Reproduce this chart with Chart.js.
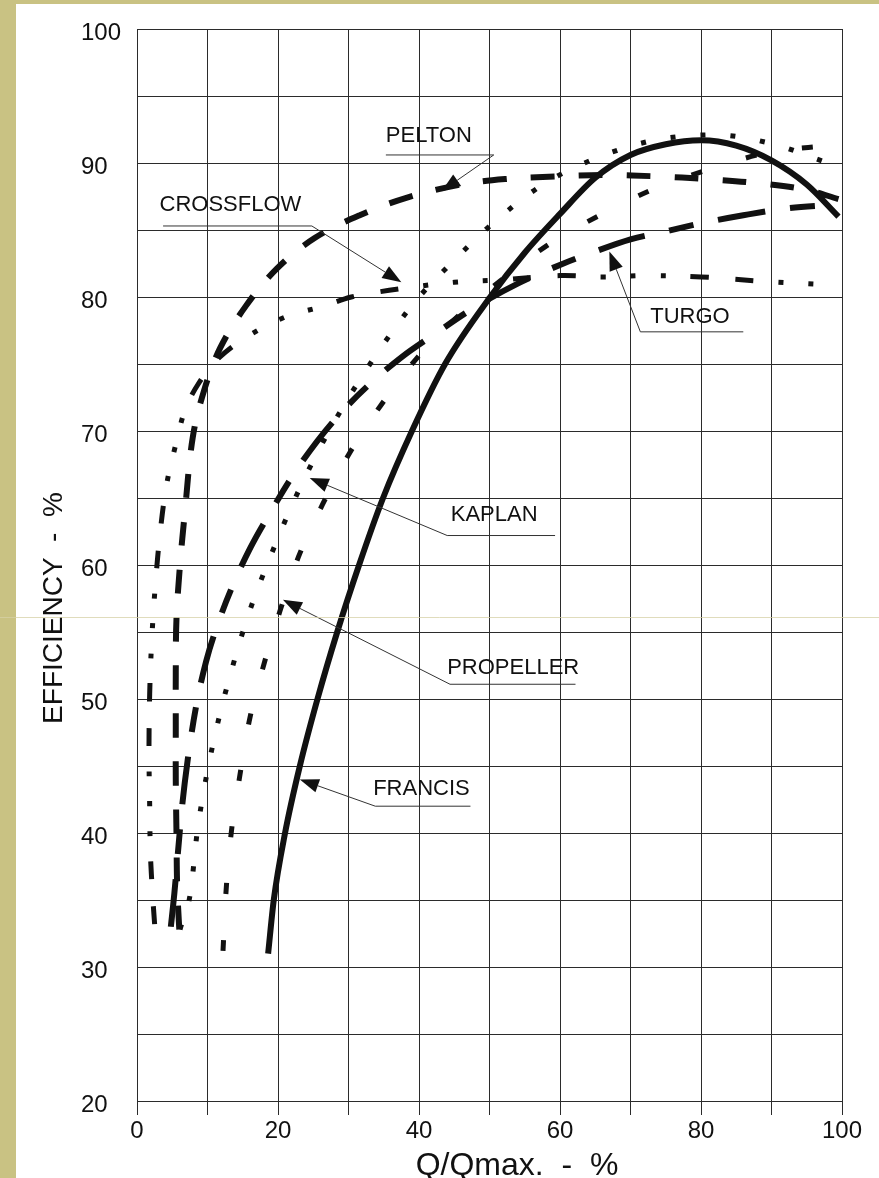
<!DOCTYPE html>
<html>
<head>
<meta charset="utf-8">
<title>Part-flow efficiency of small hydro turbines</title>
<script src="https://cdn.jsdelivr.net/npm/chart.js@4/dist/chart.umd.min.js"></script>
<style>
  html, body { margin: 0; padding: 0; background: #fff; }
  canvas { display: block; }
</style>
</head>
<body>
<canvas id="chart" width="879" height="1178"></canvas>
<script>
// Efficiency (%) against relative flow Q/Qmax (%) for each turbine type.
const francis = [[18.6,31],[19.4,35],[21,40],[23.1,45],[25.6,50],[28.4,55],[31.5,60],[34.9,65],[39,70],[43.7,75],[50.1,80],[55,83.3],[60,86.2],[65,88.9],[70,90.6],[75,91.4],[80,91.7],[85,91.3],[90,90.2],[95,88.4],[99.5,86]];
const pelton = [[6,32.8],[5.7,36],[5.6,40],[5.5,44],[5.5,48],[5.5,52],[5.6,56],[6.1,60],[6.8,64],[7.9,69.5],[9.5,73],[11.8,76.2],[15.4,79.3],[19.8,82.1],[25.2,84.4],[31.6,86.1],[38.2,87.4],[46,88.4],[52.2,88.8],[59.4,89],[66.6,89.1],[73.8,89],[80.8,88.8],[88,88.5],[95,88],[99.5,87.3]];
const crossflow = [[2.5,33.2],[2.2,35.5],[1.9,38.5],[1.8,42],[1.7,46],[1.8,50.4],[2.1,54.5],[2.6,58.5],[3.3,62.5],[4.2,66],[5.5,69],[6.9,71.7],[8.8,73.6],[11.3,75.3],[15.5,77],[21,78.5],[26.3,79.3],[30.4,80],[34.5,80.4],[40,80.8],[45,81.1],[52,81.3],[60,81.6],[66,81.5],[72,81.6],[80,81.5],[88,81.2],[98.5,80.9]];
const turgo = [[4.8,33],[5.3,35.5],[5.8,38.5],[6.4,42],[7.2,45.5],[8.4,49.5],[9.8,52.8],[11.6,55.8],[13.6,58.5],[16,61.2],[19,64],[22,66.6],[25.5,69.2],[29,71.4],[33,73.5],[37.5,75.5],[42.4,77.3],[47.5,79.1],[54,81],[60.5,82.5],[64,83.2],[70,84.3],[75,84.9],[80,85.5],[86,86.1],[92,86.6],[99.4,86.9]];
const kaplan = [[6.1,32.8],[7.6,35.6],[8.5,39.9],[9.8,44.1],[11.5,48.3],[13.6,52.5],[16,56.6],[18.9,60.6],[22.1,64.6],[25.7,68.5],[29.8,72.3],[34.2,75.9],[39.2,79.5],[44.9,82.7],[50.9,85.7],[57.6,88.4],[65.3,90.4],[73.4,91.7],[81.9,92.1],[90.3,91.4],[98.5,89.9]];
const propeller = [[12.2,31.2],[12.6,35.4],[13.3,39.7],[14.5,44],[15.9,48.3],[17.9,52.4],[20.3,56.6],[22.9,60.6],[26.3,64.5],[30.2,68.4],[34.7,72],[39.8,75.5],[46,78.8],[52.5,81.6],[58.6,84],[66,86.2],[73.5,88.1],[81.6,89.6],[89.7,90.8],[98,91.3]];

// Axis ranges and labelled tick steps
const xRange = [0, 100];
const yRange = [20, 100];
const xLabelStep = 20;
const yLabelStep = 10;

// Callout labels: text anchor, underline, leader start and arrow tip (data units)
const callouts = [
  { label: 'PELTON',    text: [35.3, 92.0], rule: [35.3, 50.6, 90.6], from: [50.6, 90.6], tip: [43.2, 87.9] },
  { label: 'CROSSFLOW', text: [3.2, 86.9],  rule: [3.7, 24.8, 85.3],  from: [24.8, 85.3], tip: [37.5, 81.1] },
  { label: 'TURGO',     text: [72.8, 78.5], rule: [71.4, 86.0, 77.4], from: [71.4, 77.4], tip: [67.0, 83.4] },
  { label: 'KAPLAN',    text: [44.5, 63.7], rule: [44.0, 59.3, 62.2], from: [44.0, 62.2], tip: [24.5, 66.5] },
  { label: 'PROPELLER', text: [44.0, 52.3], rule: [44.4, 62.2, 51.1], from: [44.4, 51.1], tip: [20.7, 57.4] },
  { label: 'FRANCIS',   text: [33.5, 43.3], rule: [33.8, 47.3, 42.0], from: [33.8, 42.0], tip: [23.1, 44.0] }
];

const FONT = "'Liberation Sans', Arial, sans-serif";
const INK = '#111';

const toPoints = arr => arr.map(([x, y]) => ({ x, y }));

function series(label, data, width, dash, smooth) {
  const ds = {
    label,
    data: toPoints(data),
    borderColor: INK,
    backgroundColor: INK,
    borderWidth: width,
    borderDash: dash,
    borderCapStyle: 'butt',
    borderJoinStyle: 'round',
    pointRadius: 0,
    pointHoverRadius: 0,
    fill: false
  };
  if (smooth === 'monotone') {
    ds.cubicInterpolationMode = 'monotone';
  } else {
    ds.tension = 0.35;
  }
  return ds;
}

// Page background, border strip and the scanner streak
const paper = {
  id: 'paper',
  beforeDraw(chart) {
    const { ctx, width, height } = chart;
    ctx.save();
    ctx.fillStyle = '#c9c283';
    ctx.fillRect(0, 0, width, height);
    ctx.fillStyle = '#ffffff';
    ctx.fillRect(16, 4, width - 16, height - 4);
    ctx.restore();
  },
  afterDraw(chart) {
    const { ctx, width } = chart;
    ctx.save();
    ctx.strokeStyle = 'rgba(214,208,165,0.75)';
    ctx.lineWidth = 1;
    ctx.beginPath();
    ctx.moveTo(0, 617.5);
    ctx.lineTo(width, 617.5);
    ctx.stroke();
    ctx.restore();
  }
};

// Axis titles
const axisTitles = {
  id: 'axisTitles',
  afterDraw(chart) {
    const { ctx } = chart;
    ctx.save();
    ctx.fillStyle = INK;
    ctx.textBaseline = 'alphabetic';
    ctx.textAlign = 'center';
    ctx.font = `32px ${FONT}`;
    ctx.fillText('Q/Qmax.  -  %', 517, 1175);
    ctx.translate(62, 608);
    ctx.rotate(-Math.PI / 2);
    ctx.font = `28px ${FONT}`;
    ctx.fillText('EFFICIENCY  -  %', 0, 0);
    ctx.restore();
  }
};

// Curve names with underline, leader line and arrow head
const calloutPlugin = {
  id: 'callouts',
  afterDatasetsDraw(chart) {
    const { ctx, scales: { x, y } } = chart;
    const px = v => x.getPixelForValue(v);
    const py = v => y.getPixelForValue(v);
    ctx.save();
    callouts.forEach(c => {
      ctx.fillStyle = INK;
      ctx.font = `22px ${FONT}`;
      ctx.textAlign = 'left';
      ctx.textBaseline = 'middle';
      ctx.fillText(c.label, px(c.text[0]), py(c.text[1]));

      ctx.strokeStyle = '#333';
      ctx.lineWidth = 1;
      ctx.beginPath();
      ctx.moveTo(px(c.rule[0]), py(c.rule[2]));
      ctx.lineTo(px(c.rule[1]), py(c.rule[2]));
      ctx.stroke();

      const fx = px(c.from[0]), fy = py(c.from[1]);
      const tx = px(c.tip[0]), ty = py(c.tip[1]);
      const ang = Math.atan2(ty - fy, tx - fx);
      const len = 19, half = 7;
      const bx = tx - len * Math.cos(ang), by = ty - len * Math.sin(ang);
      ctx.beginPath();
      ctx.moveTo(fx, fy);
      ctx.lineTo(bx, by);
      ctx.stroke();
      ctx.beginPath();
      ctx.moveTo(tx, ty);
      ctx.lineTo(bx + half * Math.sin(ang), by - half * Math.cos(ang));
      ctx.lineTo(bx - half * Math.sin(ang), by + half * Math.cos(ang));
      ctx.closePath();
      ctx.fill();
    });
    ctx.restore();
  }
};

new Chart(document.getElementById('chart'), {
  type: 'line',
  data: {
    datasets: [
      series('FRANCIS', francis, 6, [], 'monotone'),
      series('PELTON', pelton, 6, [24, 24]),
      series('TURGO', turgo, 6, [48, 25, 25, 25], 'monotone'),
      series('CROSSFLOW', crossflow, 5, [18, 27, 18, 25, 5, 25, 5, 25, 5, 25]),
      series('KAPLAN', kaplan, 5, [5, 25], 'monotone'),
      series('PROPELLER', propeller, 5, [11, 46], 'monotone')
    ]
  },
  options: {
    responsive: false,
    animation: false,
    devicePixelRatio: 1,
    layout: { padding: { left: 81, top: 29, right: 37, bottom: 0 } },
    plugins: {
      legend: { display: false },
      tooltip: { enabled: false },
      title: { display: false }
    },
    scales: {
      x: {
        type: 'linear',
        min: xRange[0],
        max: xRange[1],
        afterFit: s => { s.height = 77; },
        ticks: {
          stepSize: 10,
          autoSkip: false,
          maxRotation: 0,
          padding: 2,
          color: INK,
          font: { family: FONT, size: 24 },
          callback: v => (v % xLabelStep === 0 ? v : '')
        },
        grid: { color: '#2b2b2b', lineWidth: 1, tickLength: 14, drawTicks: true },
        border: { color: '#2b2b2b', width: 1 }
      },
      y: {
        type: 'linear',
        min: yRange[0],
        max: yRange[1],
        afterFit: s => { s.width = 56; },
        ticks: {
          stepSize: 5,
          autoSkip: false,
          crossAlign: 'far',
          labelOffset: 4,
          color: INK,
          font: { family: FONT, size: 24 },
          callback: v => (v % yLabelStep === 0 ? v : '')
        },
        grid: { color: '#2b2b2b', lineWidth: 1, drawTicks: false, tickLength: 0 },
        border: { color: '#2b2b2b', width: 1 }
      }
    }
  },
  plugins: [paper, axisTitles, calloutPlugin]
});
</script>
</body>
</html>
